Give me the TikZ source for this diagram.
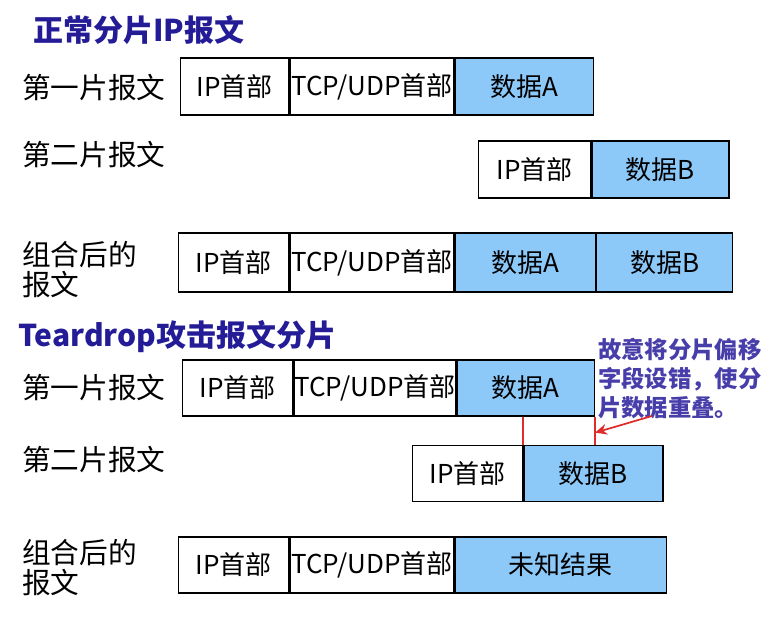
\documentclass[tikz,border=0pt]{standalone}
\usepackage{fontspec}
\setmainfont{Noto Sans CJK SC}
\usetikzlibrary{arrows.meta}
\definecolor{datablue}{RGB}{140,200,248}
\definecolor{titleblue}{RGB}{36,28,150}
\definecolor{noteblue}{RGB}{72,62,170}
\definecolor{arrowred}{RGB}{222,44,44}
\tikzset{
  seg/.style={draw,line width=1pt,inner sep=0pt,anchor=west,
    font=\fontsize{19.5}{19.5}\selectfont},
  data/.style={seg,fill=datablue},
  wd/.style={minimum width=#1*.75pt},
  ht/.style={minimum height=#1*.75pt},
  lbl/.style={anchor=west,align=left,inner sep=0pt,
    font=\fontsize{21.5}{22.5}\selectfont},
  ttl/.style={anchor=west,inner sep=0pt,text=titleblue,
    font=\bfseries\fontsize{22.5}{22.5}\selectfont}
}
\begin{document}
\begin{tikzpicture}[x=0.75pt,y=-0.75pt]
\useasboundingbox (0,0) rectangle (776,626);

% normal fragments
\node[ttl] (t1) at (33,30) {正常分片IP报文};
\node[lbl] (l1) at (22,88) {第一片报文};
\node[lbl] (l2) at (22,155) {第二片报文};
\node[lbl] (l3) at (22,270) {组合后的\\报文};

\begin{scope}[every node/.append style={ht=57}]
  \node[seg,wd=108] (ip1) at (180,86.5) {IP首部};
  \node[seg,wd=164] (tcp1) at (ip1.east) {TCP/UDP首部};
  \node[data,wd=138] (da1) at (tcp1.east) {数据A};

  \node[seg,wd=112] (ip2) at (478,169.5) {IP首部};
  \node[data,wd=137] (db2) at (ip2.east) {数据B};
\end{scope}

\begin{scope}[every node/.append style={ht=59}]
  \node[seg,wd=110] (ip3) at (178,262.5) {IP首部};
  \node[seg,wd=164] (tcp3) at (ip3.east) {TCP/UDP首部};
  \node[data,wd=140] (da3) at (tcp3.east) {数据A};
  \node[data,wd=136] (db3) at (da3.east) {数据B};
\end{scope}

% teardrop fragments
\node[ttl] (t2) at (18,337) {Teardrop攻击报文分片};
\node[lbl] (l4) at (22,388) {第一片报文};
\node[lbl] (l5) at (22,460) {第二片报文};
\node[lbl] (l6) at (22,568) {组合后的\\报文};

\begin{scope}[every node/.append style={ht=56}]
  \node[seg,wd=110] (ip4) at (182,388) {IP首部};
  \node[seg,wd=162] (tcp4) at (ip4.east) {TCP/UDP首部};
  \node[data,wd=137] (da4) at (tcp4.east) {数据A};

  \node[seg,wd=110] (ip5) at (412,473.5) {IP首部};
  \node[data,wd=139] (db5) at (ip5.east) {数据B};

  \node[seg,wd=110] (ip6) at (178,565) {IP首部};
  \node[seg,wd=164] (tcp6) at (ip6.east) {TCP/UDP首部};
  \node[data,wd=211] (res6) at (tcp6.east) {未知结果};
\end{scope}

\node[anchor=north west,align=left,inner sep=0pt,text=noteblue,
  font=\bfseries\fontsize{17.5}{21.75}\selectfont] (note) at (598,338)
  {故意将分片偏移\\字段设错，使分\\片数据重叠。};

% overlap marks
\begin{scope}[arrowred,line width=1.3pt]
  \draw (db5.north west |- da4.south) -- (db5.north west);
  \draw (da4.south east) -- (da4.south east |- db5.north);
  \coordinate (from) at (652,416);
  \coordinate (tip) at ([yshift=-12pt]da4.south east);
  \draw[-{Stealth[length=9pt,width=8pt]}] (from) -- (tip);
\end{scope}
\end{tikzpicture}
\end{document}
